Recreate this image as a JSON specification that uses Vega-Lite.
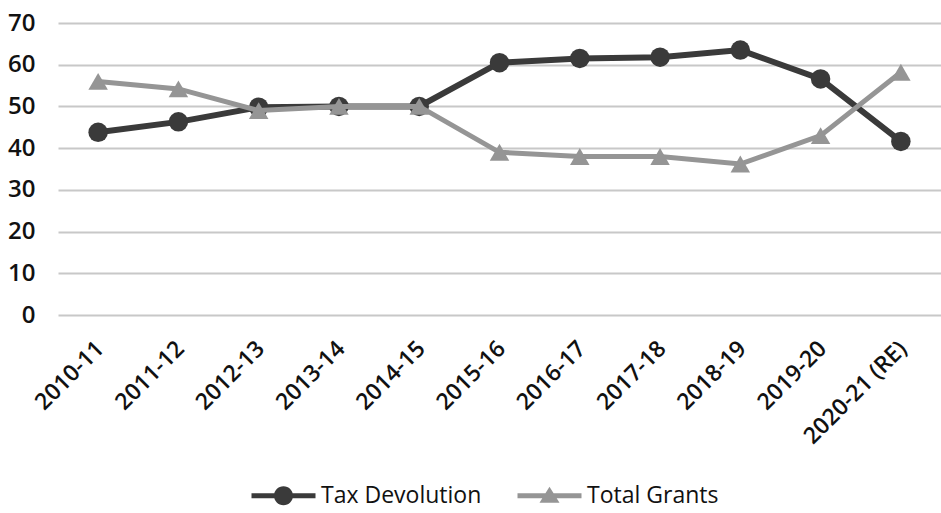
{
  "$schema": "https://vega.github.io/schema/vega-lite/v6.json",
  "autosize": {"type": "none"},
  "padding": {"left": 58, "top": 23, "right": 0, "bottom": 198},
  "width": 883,
  "height": 292,
  "background": "white",
  "config": {
    "view": {"stroke": null},
    "font": "Open Sans"
  },
  "data": {
    "values": [
      {"year": "2010-11", "series": "Tax Devolution", "value": 43.8},
      {"year": "2011-12", "series": "Tax Devolution", "value": 46.3},
      {"year": "2012-13", "series": "Tax Devolution", "value": 49.8},
      {"year": "2013-14", "series": "Tax Devolution", "value": 50.0},
      {"year": "2014-15", "series": "Tax Devolution", "value": 50.0},
      {"year": "2015-16", "series": "Tax Devolution", "value": 60.5},
      {"year": "2016-17", "series": "Tax Devolution", "value": 61.5},
      {"year": "2017-18", "series": "Tax Devolution", "value": 61.8},
      {"year": "2018-19", "series": "Tax Devolution", "value": 63.5},
      {"year": "2019-20", "series": "Tax Devolution", "value": 56.6},
      {"year": "2020-21 (RE)", "series": "Tax Devolution", "value": 41.6},
      {"year": "2010-11", "series": "Total Grants", "value": 56.0},
      {"year": "2011-12", "series": "Total Grants", "value": 54.2},
      {"year": "2012-13", "series": "Total Grants", "value": 49.0},
      {"year": "2013-14", "series": "Total Grants", "value": 50.0},
      {"year": "2014-15", "series": "Total Grants", "value": 50.0},
      {"year": "2015-16", "series": "Total Grants", "value": 39.0},
      {"year": "2016-17", "series": "Total Grants", "value": 38.0},
      {"year": "2017-18", "series": "Total Grants", "value": 38.0},
      {"year": "2018-19", "series": "Total Grants", "value": 36.2},
      {"year": "2019-20", "series": "Total Grants", "value": 43.0},
      {"year": "2020-21 (RE)", "series": "Total Grants", "value": 58.2}
    ]
  },
  "encoding": {
    "x": {
      "field": "year", "type": "ordinal", "sort": null,
      "scale": {"type": "point", "padding": 0.5},
      "axis": {
        "title": null, "domain": false, "ticks": false, "grid": false,
        "labelAngle": -45, "labelAlign": "right", "labelBaseline": "top",
        "labelFontSize": 23, "labelFontWeight": 600, "labelColor": "#111", "labelPadding": 22,
        "labelOffset": -6, "labelLimit": 0,
        "labelFont": "Open Sans"
      }
    },
    "y": {
      "field": "value", "type": "quantitative",
      "scale": {"domain": [0, 70], "nice": false},
      "axis": {
        "title": null, "domain": false, "ticks": false,
        "values": [0, 10, 20, 30, 40, 50, 60, 70],
        "gridColor": "#c8c8c8", "gridWidth": 2,
        "labelFontSize": 24, "labelFontWeight": 600, "labelColor": "#111", "labelPadding": 23,
        "labelFont": "Open Sans"
      }
    }
  },
  "layer": [
    {
      "transform": [{"filter": "datum.series === 'Tax Devolution'"}],
      "mark": {"type": "line", "strokeWidth": 6, "color": "#3a3a3a"}
    },
    {
      "transform": [{"filter": "datum.series === 'Tax Devolution'"}],
      "mark": {"type": "point", "shape": "circle", "filled": true, "opacity": 1, "size": 380, "color": "#3a3a3a"}
    },
    {
      "transform": [{"filter": "datum.series === 'Total Grants'"}],
      "mark": {"type": "line", "strokeWidth": 5, "color": "#959595"}
    },
    {
      "transform": [{"filter": "datum.series === 'Total Grants'"}],
      "mark": {"type": "point", "shape": "triangle-up", "filled": true, "opacity": 1, "size": 380, "color": "#959595"}
    },
    {
      "transform": [{"filter": "false"}],
      "mark": {"type": "point", "filled": true, "opacity": 1, "size": 400},
      "encoding": {
        "color": {
          "field": "series", "type": "nominal",
          "scale": {"domain": ["Tax Devolution", "Total Grants"], "range": ["#3a3a3a", "#959595"]},
          "legend": {
            "title": null, "orient": "none", "direction": "horizontal",
            "legendX": 194, "legendY": 461,
            "symbolSize": 400, "symbolOpacity": 1, "symbolStrokeWidth": 0,
            "symbolOffset": 20, "labelOffset": 26, "columnPadding": 35,
            "labelFontSize": 23, "labelColor": "#111", "labelFont": "Open Sans", "labelLimit": 0
          }
        },
        "shape": {
          "field": "series", "type": "nominal",
          "scale": {
            "domain": ["Tax Devolution", "Total Grants"],
            "range": [
              "M-3.2,-0.25H3.2V0.25H-3.2Z M0.95,0A0.95,0.95,0,1,1,-0.95,0A0.95,0.95,0,1,1,0.95,0Z",
              "M-3.2,-0.25H3.2V0.25H-3.2Z M0,-0.9L1,0.7H-1Z"
            ]
          },
          "legend": {
            "title": null, "orient": "none", "direction": "horizontal",
            "legendX": 194, "legendY": 461,
            "symbolSize": 400, "symbolOpacity": 1, "symbolStrokeWidth": 0,
            "symbolOffset": 20, "labelOffset": 26, "columnPadding": 35,
            "labelFontSize": 23, "labelColor": "#111", "labelFont": "Open Sans", "labelLimit": 0
          }
        }
      }
    }
  ]
}
